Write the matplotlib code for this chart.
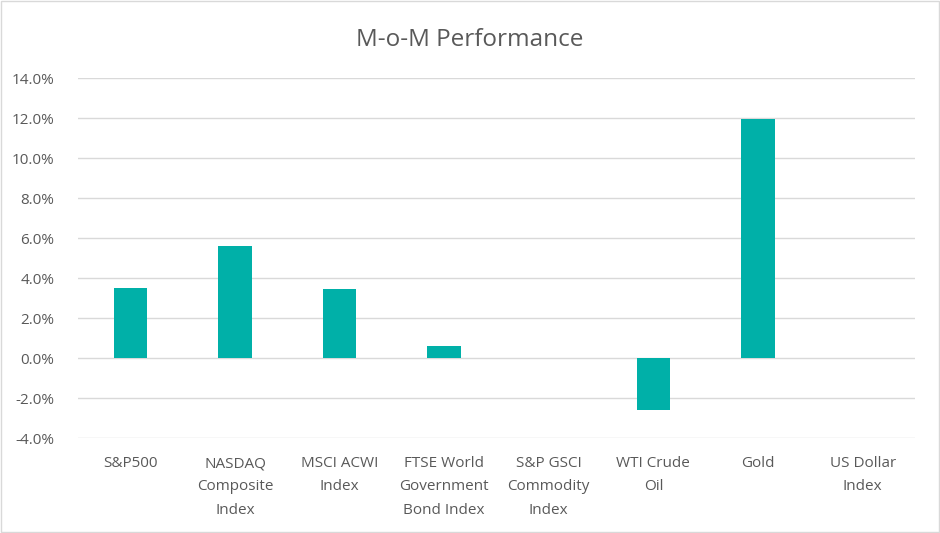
import matplotlib.pyplot as plt
import matplotlib.ticker as ticker
from matplotlib.patches import Rectangle

# Data
categories = ['S&P500', 'NASDAQ\nComposite\nIndex', 'MSCI ACWI\nIndex',
              'FTSE World\nGovernment\nBond Index', 'S&P GSCI\nCommodity\nIndex',
              'WTI Crude\nOil', 'Gold', 'US Dollar\nIndex']
mom_values = [3.5, 5.6, 3.45, 0.6, 0.0, -2.6, 11.95, 0.0]  # percent

barColor = '#00B0A8'
textColor = '#595959'
gridColor = '#D9D9D9'

fig = plt.figure(figsize=(9.4, 5.33), dpi=100)
plt.rcParams['font.family'] = ['Open Sans', 'DejaVu Sans']
ax = fig.add_axes([78 / 940, 1 - 438 / 533, (915 - 78) / 940, 360 / 533])

xpos = range(len(categories))
ax.bar(xpos, mom_values, width=0.32, color=barColor, zorder=3)

ax.set_xlim(-0.5, len(categories) - 0.5)
ax.set_ylim(-4, 14)
ax.yaxis.set_major_locator(ticker.MultipleLocator(2))
ax.yaxis.set_major_formatter(ticker.FuncFormatter(lambda v, p: '%.1f%%' % v))
ax.grid(axis='y', color=gridColor, linewidth=1, zorder=0)
for s in ax.spines.values():
    s.set_visible(False)
ax.set_xticks(list(xpos))
ax.set_xticklabels(categories, linespacing=1.75)
ax.tick_params(axis='both', length=0, labelsize=11, colors=textColor)
ax.tick_params(axis='x', pad=13)
ax.tick_params(axis='y', pad=17)

fig.text(0.5, 1 - 40 / 533, 'M-o-M Performance', ha='center', va='center',
         fontsize=17.5, color=textColor)

# light border round the chart area
fig.patches.append(Rectangle((0.001, 0.001), 0.998, 0.997, transform=fig.transFigure,
                             fill=False, edgecolor=gridColor, linewidth=1))

fig.savefig('out.png', dpi=100)
